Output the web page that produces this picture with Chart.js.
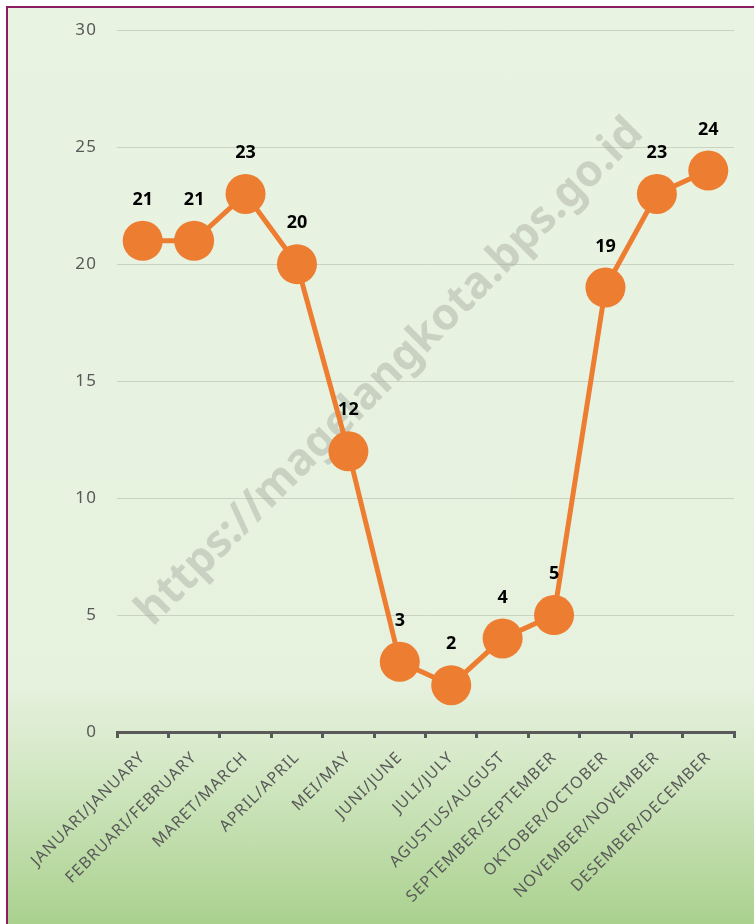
<!DOCTYPE html>
<html>
<head>
<meta charset="utf-8">
<script src="https://cdn.jsdelivr.net/npm/chart.js@4.4.1/dist/chart.umd.min.js"></script>
<style>
  html, body { margin:0; padding:0; background:#fff; }
  #frame { position:absolute; left:6px; top:6px; width:748px; height:918px;
    border-top:2px solid #8c1d63; border-left:2px solid #8c1d63; box-sizing:border-box;
    background:linear-gradient(to bottom, #e9f3e2 0%, #e6f1de 74%, #d6e9c8 82%, #aad18e 100%); }
  #wrap { position:absolute; left:0; top:0; width:754px; height:924px; }
</style>
</head>
<body>
<div id="frame"></div>
<div id="wrap"><canvas id="lineChart" width="754" height="924"></canvas></div>
<script>
const months = ['JANUARI/JANUARY','FEBRUARI/FEBRUARY','MARET/MARCH','APRIL/APRIL','MEI/MAY','JUNI/JUNE',
  'JULI/JULY','AGUSTUS/AUGUST','SEPTEMBER/SEPTEMBER','OKTOBER/OCTOBER','NOVEMBER/NOVEMBER','DESEMBER/DECEMBER'];
const values = [21,21,23,20,12,3,2,4,5,19,23,24];
const yTicks = [0,5,10,15,20,25,30];

// wider tracking for axis text, like the original
const spacing = {
  id:'spacing',
  beforeLayout(chart){ chart.ctx.letterSpacing = '1.1px'; },
  beforeDraw(chart){ chart.ctx.letterSpacing = '1.1px'; }
};

// watermark behind the line
const watermark = {
  id:'watermark',
  beforeDatasetsDraw(chart){
    const c = chart.ctx;
    c.save();
    c.letterSpacing = '0px';
    c.translate(390, 372);
    c.rotate(-Math.PI/4);
    c.font = 'bold 44px "Noto Sans"';
    c.fillStyle = 'rgba(160,165,155,0.42)';
    c.textAlign = 'center';
    c.textBaseline = 'middle';
    c.fillText('https://magelangkota.bps.go.id', 0, 0);
    c.restore();
  }
};

// value labels above points
const pointLabels = {
  id:'pointLabels',
  afterDatasetsDraw(chart){
    const c = chart.ctx;
    const meta = chart.getDatasetMeta(0);
    c.save();
    c.letterSpacing = '0px';
    c.font = 'bold 18px "Noto Sans"';
    c.fillStyle = '#000';
    c.textAlign = 'center';
    c.textBaseline = 'middle';
    meta.data.forEach((pt, i) => c.fillText(values[i], pt.x, pt.y - 41));
    c.restore();
  }
};

new Chart(document.getElementById('lineChart').getContext('2d'), {
  type:'line',
  data:{ labels: months, datasets:[{ data: values, borderColor:'#ed7d31', backgroundColor:'#ed7d31',
    borderWidth:5, pointRadius:20, pointHoverRadius:20, pointBorderWidth:0, tension:0 }] },
  options:{
    responsive:false, animation:false,
    layout:{ padding:{ top:24, right:17, left:0, bottom:0 } },
    plugins:{ legend:{ display:false }, tooltip:{ enabled:false } },
    scales:{
      x:{ offset:true,
        grid:{ drawOnChartArea:false, drawTicks:true, tickLength:6, color:'#595959', lineWidth:3, offset:true },
        border:{ color:'#595959', width:3 },
        ticks:{ minRotation:45, maxRotation:45, color:'#595959', padding:10, font:{ family:'"Noto Sans"', size:16 } },
        afterFit(s){ s.height = 192; }
      },
      y:{ min:0, max:30,
        afterBuildTicks(s){ s.ticks = yTicks.map(v => ({ value:v })); },
        grid:{ color:'#c9d3c1', lineWidth:1, drawTicks:false },
        border:{ display:false },
        ticks:{ color:'#595959', padding:20, font:{ family:'"Noto Sans"', size:17 } },
        afterFit(s){ s.width = 117; }
      }
    }
  },
  plugins:[spacing, watermark, pointLabels]
});
</script>
</body>
</html>
